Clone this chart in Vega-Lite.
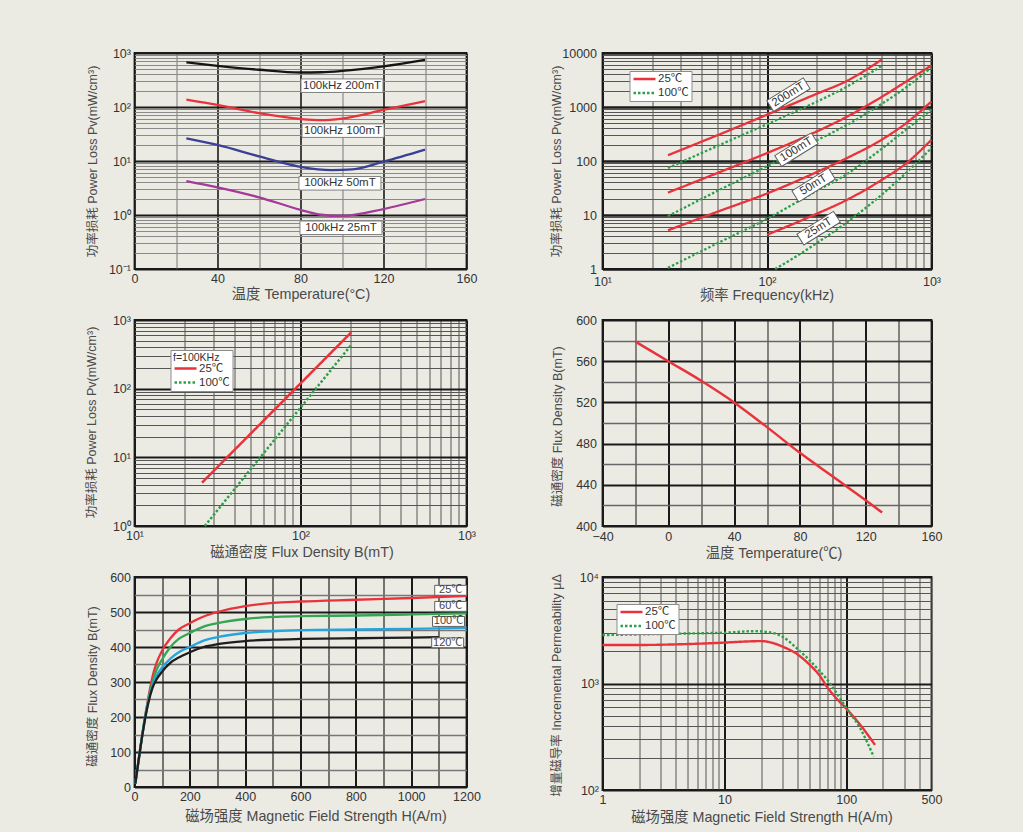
{
  "$schema": "https://vega.github.io/schema/vega-lite/v6.json",
  "background": "#ecebe3",
  "padding": {"left": 83.5, "top": 46, "right": 85, "bottom": 12},
  "config": {
    "font": "Liberation Sans, Noto Sans CJK SC, sans-serif",
    "view": {"stroke": "#1a1a1a", "strokeWidth": 1.8},
    "axis": {"domain": false, "ticks": false, "labelFont": "Liberation Sans, Noto Sans CJK SC, sans-serif", "titleFont": "Liberation Sans, Noto Sans CJK SC, sans-serif", "labelColor": "#333", "titleColor": "#4a4a4a", "labelFontSize": 12.5, "titleFontSize": 12.5, "titleFontWeight": "normal", "gridOpacity": 1, "labelPadding": 4, "titleAlign": "center", "titleBaseline": "middle", "labelFlush": false, "labelOverlap": false},
    "axisX": {"labelPadding": 3, "titleAngle": 0, "titleFontSize": 14.3},
    "axisY": {"titleAngle": 270},
    "legend": {"orient": "none", "fillColor": "white", "strokeColor": "#8c8c8c", "padding": 2.5, "symbolType": "stroke", "symbolSize": 484, "symbolStrokeWidth": 2.5, "labelFontSize": 11.5, "labelColor": "#333", "labelFont": "Liberation Sans, Noto Sans CJK SC, sans-serif", "labelOffset": 1, "rowPadding": 2, "clipHeight": 11, "titleFontSize": 10.5, "titleFontWeight": "normal", "titleColor": "#333", "titlePadding": 0, "titleFont": "Liberation Sans, Noto Sans CJK SC, sans-serif"}
  },
  "datasets": {
    "p1": [
      {"x": 25, "y": 670, "s": "200mT"}, {"x": 40, "y": 580, "s": "200mT"}, {"x": 60, "y": 490, "s": "200mT"}, {"x": 80, "y": 435, "s": "200mT"}, {"x": 90, "y": 440, "s": "200mT"}, {"x": 100, "y": 465, "s": "200mT"}, {"x": 120, "y": 565, "s": "200mT"}, {"x": 140, "y": 745, "s": "200mT"},
      {"x": 25, "y": 137, "s": "100mT"}, {"x": 40, "y": 109, "s": "100mT"}, {"x": 60, "y": 77, "s": "100mT"}, {"x": 80, "y": 60, "s": "100mT"}, {"x": 90, "y": 57, "s": "100mT"}, {"x": 100, "y": 61, "s": "100mT"}, {"x": 120, "y": 88, "s": "100mT"}, {"x": 140, "y": 128, "s": "100mT"},
      {"x": 25, "y": 26.3, "s": "50mT"}, {"x": 40, "y": 19.8, "s": "50mT"}, {"x": 60, "y": 12.2, "s": "50mT"}, {"x": 80, "y": 7.8, "s": "50mT"}, {"x": 95, "y": 6.8, "s": "50mT"}, {"x": 105, "y": 7.0, "s": "50mT"}, {"x": 120, "y": 9.7, "s": "50mT"}, {"x": 140, "y": 16.2, "s": "50mT"},
      {"x": 25, "y": 4.26, "s": "25mT"}, {"x": 40, "y": 3.26, "s": "25mT"}, {"x": 60, "y": 2.13, "s": "25mT"}, {"x": 80, "y": 1.25, "s": "25mT"}, {"x": 90, "y": 1.01, "s": "25mT"}, {"x": 100, "y": 0.96, "s": "25mT"}, {"x": 120, "y": 1.29, "s": "25mT"}, {"x": 140, "y": 1.98, "s": "25mT"}
    ],
    "p1l": [
      {"x": 100, "y": 248, "t": "100kHz 200mT"},
      {"x": 100.5, "y": 36.5, "t": "100kHz 100mT"},
      {"x": 99, "y": 3.86, "t": "100kHz 50mT"},
      {"x": 99.5, "y": 0.58, "t": "100kHz 25mT"}
    ],
    "p2": [
      {"x": 25, "y": 128, "s": "200mT", "T": "25℃"}, {"x": 50, "y": 300, "s": "200mT", "T": "25℃"}, {"x": 100, "y": 720, "s": "200mT", "T": "25℃"}, {"x": 200, "y": 1750, "s": "200mT", "T": "25℃"}, {"x": 300, "y": 2950, "s": "200mT", "T": "25℃"}, {"x": 500, "y": 7600, "s": "200mT", "T": "25℃"},
      {"x": 25, "y": 74, "s": "200mT", "T": "100℃"}, {"x": 50, "y": 190, "s": "200mT", "T": "100℃"}, {"x": 100, "y": 480, "s": "200mT", "T": "100℃"}, {"x": 200, "y": 1250, "s": "200mT", "T": "100℃"}, {"x": 300, "y": 2300, "s": "200mT", "T": "100℃"}, {"x": 500, "y": 5800, "s": "200mT", "T": "100℃"},
      {"x": 25, "y": 26, "s": "100mT", "T": "25℃"}, {"x": 50, "y": 60, "s": "100mT", "T": "25℃"}, {"x": 100, "y": 140, "s": "100mT", "T": "25℃"}, {"x": 200, "y": 350, "s": "100mT", "T": "25℃"}, {"x": 300, "y": 640, "s": "100mT", "T": "25℃"}, {"x": 500, "y": 1550, "s": "100mT", "T": "25℃"}, {"x": 700, "y": 2950, "s": "100mT", "T": "25℃"}, {"x": 1000, "y": 5900, "s": "100mT", "T": "25℃"},
      {"x": 25, "y": 9.5, "s": "100mT", "T": "100℃"}, {"x": 50, "y": 28, "s": "100mT", "T": "100℃"}, {"x": 100, "y": 80, "s": "100mT", "T": "100℃"}, {"x": 200, "y": 240, "s": "100mT", "T": "100℃"}, {"x": 300, "y": 450, "s": "100mT", "T": "100℃"}, {"x": 500, "y": 1150, "s": "100mT", "T": "100℃"}, {"x": 700, "y": 2300, "s": "100mT", "T": "100℃"}, {"x": 1000, "y": 5400, "s": "100mT", "T": "100℃"},
      {"x": 25, "y": 5.2, "s": "50mT", "T": "25℃"}, {"x": 50, "y": 11.5, "s": "50mT", "T": "25℃"}, {"x": 100, "y": 25, "s": "50mT", "T": "25℃"}, {"x": 200, "y": 62, "s": "50mT", "T": "25℃"}, {"x": 300, "y": 110, "s": "50mT", "T": "25℃"}, {"x": 500, "y": 250, "s": "50mT", "T": "25℃"}, {"x": 700, "y": 500, "s": "50mT", "T": "25℃"}, {"x": 1000, "y": 1270, "s": "50mT", "T": "25℃"},
      {"x": 25, "y": 1.05, "s": "50mT", "T": "100℃"}, {"x": 50, "y": 3.0, "s": "50mT", "T": "100℃"}, {"x": 100, "y": 8.5, "s": "50mT", "T": "100℃"}, {"x": 200, "y": 28, "s": "50mT", "T": "100℃"}, {"x": 300, "y": 55, "s": "50mT", "T": "100℃"}, {"x": 500, "y": 170, "s": "50mT", "T": "100℃"}, {"x": 700, "y": 380, "s": "50mT", "T": "100℃"}, {"x": 1000, "y": 890, "s": "50mT", "T": "100℃"},
      {"x": 100, "y": 4.3, "s": "25mT", "T": "25℃"}, {"x": 200, "y": 10.5, "s": "25mT", "T": "25℃"}, {"x": 300, "y": 18.5, "s": "25mT", "T": "25℃"}, {"x": 500, "y": 45, "s": "25mT", "T": "25℃"}, {"x": 700, "y": 90, "s": "25mT", "T": "25℃"}, {"x": 1000, "y": 248, "s": "25mT", "T": "25℃"},
      {"x": 112, "y": 1.0, "s": "25mT", "T": "100℃"}, {"x": 150, "y": 1.7, "s": "25mT", "T": "100℃"}, {"x": 200, "y": 3.0, "s": "25mT", "T": "100℃"}, {"x": 300, "y": 7.0, "s": "25mT", "T": "100℃"}, {"x": 500, "y": 24, "s": "25mT", "T": "100℃"}, {"x": 700, "y": 60, "s": "25mT", "T": "100℃"}, {"x": 1000, "y": 174, "s": "25mT", "T": "100℃"}
    ],
    "p2l": [
      {"x": 135, "y": 1690, "t": "200mT"},
      {"x": 151, "y": 162, "t": "100mT"},
      {"x": 192, "y": 36, "t": "50mT"},
      {"x": 206, "y": 5.7, "t": "25mT"}
    ],
    "p3": [
      {"x": 25.5, "y": 4.27, "T": "25℃"}, {"x": 202, "y": 660, "T": "25℃"},
      {"x": 26.5, "y": 1.0, "T": "100℃"}, {"x": 202, "y": 432, "T": "100℃"}
    ],
    "p4": [
      {"x": -20, "y": 579}, {"x": 0, "y": 560}, {"x": 20, "y": 541}, {"x": 40, "y": 520}, {"x": 60, "y": 496}, {"x": 80, "y": 471}, {"x": 100, "y": 448}, {"x": 120, "y": 425}, {"x": 130, "y": 413}
    ],
    "p5": [
      {"x": 3, "y": 10, "s": "25℃"}, {"x": 20, "y": 105, "s": "25℃"}, {"x": 35, "y": 185, "s": "25℃"}, {"x": 50, "y": 255, "s": "25℃"}, {"x": 65, "y": 315, "s": "25℃"}, {"x": 80, "y": 355, "s": "25℃"}, {"x": 100, "y": 390, "s": "25℃"}, {"x": 130, "y": 425, "s": "25℃"}, {"x": 160, "y": 450, "s": "25℃"}, {"x": 200, "y": 468, "s": "25℃"}, {"x": 250, "y": 487, "s": "25℃"}, {"x": 300, "y": 500, "s": "25℃"}, {"x": 400, "y": 517, "s": "25℃"}, {"x": 500, "y": 526, "s": "25℃"}, {"x": 600, "y": 530, "s": "25℃"}, {"x": 800, "y": 535, "s": "25℃"}, {"x": 1000, "y": 540, "s": "25℃"}, {"x": 1200, "y": 546, "s": "25℃"},
      {"x": 3, "y": 10, "s": "60℃"}, {"x": 20, "y": 105, "s": "60℃"}, {"x": 35, "y": 185, "s": "60℃"}, {"x": 50, "y": 250, "s": "60℃"}, {"x": 65, "y": 300, "s": "60℃"}, {"x": 80, "y": 335, "s": "60℃"}, {"x": 100, "y": 365, "s": "60℃"}, {"x": 130, "y": 400, "s": "60℃"}, {"x": 160, "y": 423, "s": "60℃"}, {"x": 200, "y": 440, "s": "60℃"}, {"x": 250, "y": 458, "s": "60℃"}, {"x": 300, "y": 468, "s": "60℃"}, {"x": 400, "y": 480, "s": "60℃"}, {"x": 500, "y": 486, "s": "60℃"}, {"x": 600, "y": 488, "s": "60℃"}, {"x": 800, "y": 490, "s": "60℃"}, {"x": 1000, "y": 493, "s": "60℃"}, {"x": 1200, "y": 496, "s": "60℃"},
      {"x": 3, "y": 10, "s": "100℃"}, {"x": 20, "y": 105, "s": "100℃"}, {"x": 35, "y": 183, "s": "100℃"}, {"x": 50, "y": 245, "s": "100℃"}, {"x": 65, "y": 290, "s": "100℃"}, {"x": 80, "y": 318, "s": "100℃"}, {"x": 100, "y": 342, "s": "100℃"}, {"x": 130, "y": 367, "s": "100℃"}, {"x": 160, "y": 385, "s": "100℃"}, {"x": 200, "y": 400, "s": "100℃"}, {"x": 250, "y": 418, "s": "100℃"}, {"x": 300, "y": 428, "s": "100℃"}, {"x": 400, "y": 440, "s": "100℃"}, {"x": 500, "y": 445, "s": "100℃"}, {"x": 600, "y": 448, "s": "100℃"}, {"x": 800, "y": 450, "s": "100℃"}, {"x": 1000, "y": 452, "s": "100℃"}, {"x": 1200, "y": 455, "s": "100℃"},
      {"x": 3, "y": 10, "s": "120℃"}, {"x": 20, "y": 105, "s": "120℃"}, {"x": 35, "y": 180, "s": "120℃"}, {"x": 50, "y": 240, "s": "120℃"}, {"x": 65, "y": 283, "s": "120℃"}, {"x": 80, "y": 308, "s": "120℃"}, {"x": 100, "y": 330, "s": "120℃"}, {"x": 130, "y": 355, "s": "120℃"}, {"x": 160, "y": 370, "s": "120℃"}, {"x": 200, "y": 385, "s": "120℃"}, {"x": 250, "y": 400, "s": "120℃"}, {"x": 300, "y": 408, "s": "120℃"}, {"x": 400, "y": 417, "s": "120℃"}, {"x": 500, "y": 421, "s": "120℃"}, {"x": 600, "y": 423, "s": "120℃"}, {"x": 800, "y": 425, "s": "120℃"}, {"x": 1000, "y": 427, "s": "120℃"}, {"x": 1100, "y": 428, "s": "120℃"}
    ],
    "p5l": [
      {"x": 1143, "y": 562, "t": "25℃"},
      {"x": 1143, "y": 516, "t": "60℃"},
      {"x": 1135, "y": 473, "t": "100℃"},
      {"x": 1132, "y": 412, "t": "120℃"}
    ],
    "p6": [
      {"x": 1, "y": 2300, "T": "25℃"}, {"x": 2, "y": 2300, "T": "25℃"}, {"x": 4, "y": 2330, "T": "25℃"}, {"x": 10, "y": 2420, "T": "25℃"}, {"x": 15, "y": 2480, "T": "25℃"}, {"x": 20, "y": 2500, "T": "25℃"}, {"x": 25, "y": 2400, "T": "25℃"}, {"x": 30, "y": 2220, "T": "25℃"}, {"x": 40, "y": 1870, "T": "25℃"}, {"x": 50, "y": 1500, "T": "25℃"}, {"x": 60, "y": 1200, "T": "25℃"}, {"x": 70, "y": 920, "T": "25℃"}, {"x": 80, "y": 760, "T": "25℃"}, {"x": 100, "y": 580, "T": "25℃"}, {"x": 130, "y": 410, "T": "25℃"}, {"x": 172, "y": 265, "T": "25℃"},
      {"x": 1, "y": 2850, "T": "100℃"}, {"x": 5, "y": 2950, "T": "100℃"}, {"x": 10, "y": 3000, "T": "100℃"}, {"x": 18, "y": 3100, "T": "100℃"}, {"x": 25, "y": 2980, "T": "100℃"}, {"x": 30, "y": 2750, "T": "100℃"}, {"x": 40, "y": 2100, "T": "100℃"}, {"x": 50, "y": 1650, "T": "100℃"}, {"x": 60, "y": 1320, "T": "100℃"}, {"x": 70, "y": 1080, "T": "100℃"}, {"x": 80, "y": 870, "T": "100℃"}, {"x": 100, "y": 590, "T": "100℃"}, {"x": 130, "y": 380, "T": "100℃"}, {"x": 168, "y": 205, "T": "100℃"}
    ]
  },
  "resolve": {"scale": {"color": "independent", "strokeDash": "independent"}, "legend": {"color": "independent", "strokeDash": "independent"}},
  "columns": 2,
  "bounds": "flush",
  "spacing": {"row": 51, "column": 136},
  "concat": [
    {
      "width": 332, "height": 216,
      "encoding": {
        "x": {"field": "x", "type": "quantitative", "scale": {"domain": [0, 160], "nice": false, "zero": false},
          "axis": {"title": "温度 Temperature(°C)", "values": [0, 20, 40, 60, 80, 100, 120, 140, 160],
            "labelExpr": "datum.value % 40 === 0 ? format(datum.value, 'd') : ''",
            "gridColor": {"condition": {"test": "datum.value % 40 === 0", "value": "#1a1a1a"}, "value": "#8a8a8a"},
            "gridWidth": {"condition": {"test": "datum.value % 40 === 0", "value": 1.6}, "value": 1.2},
            "titleX": 166, "titleY": 25}},
        "y": {"field": "y", "type": "quantitative", "scale": {"type": "log", "domain": [0.1, 1000], "nice": false},
          "axis": {"title": "功率损耗  Power Loss Pv(mW/cm³)", "values": [0.1, 0.2, 0.3, 0.4, 0.5, 0.6, 0.7, 0.8, 0.9, 1, 2, 3, 4, 5, 6, 7, 8, 9, 10, 20, 30, 40, 50, 60, 70, 80, 90, 100, 200, 300, 400, 500, 600, 700, 800, 900, 1000],
            "labelExpr": "abs(log(datum.value)/LN10 - round(log(datum.value)/LN10)) < 0.001 ? '10' + ['⁻¹','⁰','¹','²','³','⁴'][round(log(datum.value)/LN10)+1] : ''",
            "gridColor": {"condition": {"test": "abs(log(datum.value)/LN10 - round(log(datum.value)/LN10)) < 0.001", "value": "#1a1a1a"}, "value": "#8a8a8a"},
            "gridWidth": {"condition": {"test": "abs(log(datum.value)/LN10 - round(log(datum.value)/LN10)) < 0.001", "value": 1.8}, "value": 1},
            "titleX": -42, "titleY": 108}}
      },
      "layer": [
        {"data": {"name": "p1"}, "mark": {"type": "line", "interpolate": "monotone", "strokeWidth": 2.3},
          "encoding": {"color": {"field": "s", "type": "nominal", "scale": {"domain": ["200mT", "100mT", "50mT", "25mT"], "range": ["#151515", "#e8333c", "#3b3f96", "#a43a98"]}, "legend": null}}},
        {"data": {"name": "p1l"}, "mark": {"type": "point", "shape": "M-1,-0.165L1,-0.165L1,0.165L-1,0.165Z", "size": 6724, "filled": true, "fill": "white", "fillOpacity": 1, "stroke": "#808080", "strokeWidth": 1, "opacity": 1}},
        {"data": {"name": "p1l"}, "mark": {"type": "text", "fontSize": 11.5, "color": "#333", "align": "center", "baseline": "middle"},
          "encoding": {"text": {"field": "t", "type": "nominal"}}}
      ]
    },
    {
      "width": 329, "height": 216,
      "encoding": {
        "x": {"field": "x", "type": "quantitative", "scale": {"type": "log", "domain": [10, 1000], "nice": false},
          "axis": {"title": "频率 Frequency(kHz)", "values": [10, 20, 30, 40, 50, 60, 70, 80, 90, 100, 200, 300, 400, 500, 600, 700, 800, 900, 1000],
            "labelPadding": 6,
            "labelExpr": "abs(log(datum.value)/LN10 - round(log(datum.value)/LN10)) < 0.001 ? '10' + ['⁰','¹','²','³','⁴'][round(log(datum.value)/LN10)] : ''",
            "gridColor": {"condition": {"test": "abs(log(datum.value)/LN10 - round(log(datum.value)/LN10)) < 0.001", "value": "#1a1a1a"}, "value": "#555555"},
            "gridWidth": {"condition": {"test": "abs(log(datum.value)/LN10 - round(log(datum.value)/LN10)) < 0.001", "value": 2}, "value": 1},
            "titleX": 164, "titleY": 26}},
        "y": {"field": "y", "type": "quantitative", "scale": {"type": "log", "domain": [1, 10000], "nice": false},
          "axis": {"title": "功率损耗 Power Loss Pv(mW/cm³)", "values": [1, 2, 3, 4, 5, 6, 7, 8, 9, 10, 20, 30, 40, 50, 60, 70, 80, 90, 100, 200, 300, 400, 500, 600, 700, 800, 900, 1000, 2000, 3000, 4000, 5000, 6000, 7000, 8000, 9000, 10000],
            "labelPadding": 6,
            "labelExpr": "abs(log(datum.value)/LN10 - round(log(datum.value)/LN10)) < 0.001 ? format(datum.value, 'd') : ''",
            "gridColor": {"condition": {"test": "abs(log(datum.value)/LN10 - round(log(datum.value)/LN10)) < 0.001", "value": "#1a1a1a"}, "value": "#555555"},
            "gridWidth": {"condition": {"test": "abs(log(datum.value)/LN10 - round(log(datum.value)/LN10)) < 0.001", "value": 2.4}, "value": 1},
            "titleX": -46.5, "titleY": 108}}
      },
      "layer": [
        {"data": {"name": "p2"}, "mark": {"type": "line", "interpolate": "monotone", "strokeWidth": 2.3},
          "encoding": {
            "detail": {"field": "s", "type": "nominal"},
            "color": {"field": "T", "type": "nominal", "scale": {"domain": ["25℃", "100℃"], "range": ["#e8333c", "#2f9e4a"]}, "legend": {"title": null, "legendX": 27, "legendY": 18}},
            "strokeDash": {"field": "T", "type": "nominal", "scale": {"domain": ["25℃", "100℃"], "range": [[1, 0], [2.5, 2]]}, "legend": {"title": null, "legendX": 27, "legendY": 18}}
          }},
        {"data": {"name": "p2l"}, "mark": {"type": "point", "shape": "M-1,-0.3L1,-0.3L1,0.3L-1,0.3Z", "size": 1849, "angle": -32, "filled": true, "fill": "white", "fillOpacity": 1, "stroke": "#606060", "strokeWidth": 1, "opacity": 1}},
        {"data": {"name": "p2l"}, "mark": {"type": "text", "fontSize": 11.5, "color": "#333", "align": "center", "baseline": "middle", "angle": -32},
          "encoding": {"text": {"field": "t", "type": "nominal"}}}
      ]
    },
    {
      "width": 332, "height": 206,
      "encoding": {
        "x": {"field": "x", "type": "quantitative", "scale": {"type": "log", "domain": [10, 1000], "nice": false},
          "axis": {"title": "磁通密度  Flux Density B(mT)", "values": [10, 20, 30, 40, 50, 60, 70, 80, 90, 100, 200, 300, 400, 500, 600, 700, 800, 900, 1000],
            "labelExpr": "abs(log(datum.value)/LN10 - round(log(datum.value)/LN10)) < 0.001 ? '10' + ['⁰','¹','²','³','⁴'][round(log(datum.value)/LN10)] : ''",
            "gridColor": {"condition": {"test": "abs(log(datum.value)/LN10 - round(log(datum.value)/LN10)) < 0.001", "value": "#1a1a1a"}, "value": "#555555"},
            "gridWidth": {"condition": {"test": "abs(log(datum.value)/LN10 - round(log(datum.value)/LN10)) < 0.001", "value": 2}, "value": 1},
            "titleX": 167, "titleY": 26}},
        "y": {"field": "y", "type": "quantitative", "scale": {"type": "log", "domain": [1, 1000], "nice": false},
          "axis": {"title": "功率损耗 Power Loss Pv(mW/cm³)", "values": [1, 2, 3, 4, 5, 6, 7, 8, 9, 10, 20, 30, 40, 50, 60, 70, 80, 90, 100, 200, 300, 400, 500, 600, 700, 800, 900, 1000],
            "labelExpr": "abs(log(datum.value)/LN10 - round(log(datum.value)/LN10)) < 0.001 ? '10' + ['⁰','¹','²','³','⁴'][round(log(datum.value)/LN10)] : ''",
            "gridColor": {"condition": {"test": "abs(log(datum.value)/LN10 - round(log(datum.value)/LN10)) < 0.001", "value": "#1a1a1a"}, "value": "#555555"},
            "gridWidth": {"condition": {"test": "abs(log(datum.value)/LN10 - round(log(datum.value)/LN10)) < 0.001", "value": 2.2}, "value": 1},
            "titleX": -43.5, "titleY": 102}}
      },
      "layer": [
        {"data": {"name": "p3"}, "mark": {"type": "line", "strokeWidth": 2.5},
          "encoding": {
            "color": {"field": "T", "type": "nominal", "scale": {"domain": ["25℃", "100℃"], "range": ["#e8333c", "#2f9e4a"]}, "legend": {"title": "f=100KHz", "legendX": 36, "legendY": 30}},
            "strokeDash": {"field": "T", "type": "nominal", "scale": {"domain": ["25℃", "100℃"], "range": [[1, 0], [2.5, 2]]}, "legend": {"title": "f=100KHz", "legendX": 36, "legendY": 30}}
          }}
      ]
    },
    {
      "width": 329, "height": 206,
      "encoding": {
        "x": {"field": "x", "type": "quantitative", "scale": {"domain": [-40, 160], "nice": false, "zero": false},
          "axis": {"title": "温度 Temperature(℃)", "values": [-40, -20, 0, 20, 40, 60, 80, 100, 120, 140, 160],
            "labelPadding": 4.5,
            "labelExpr": "datum.value % 40 === 0 ? datum.label : ''",
            "gridColor": {"condition": {"test": "datum.value % 40 === 0", "value": "#1a1a1a"}, "value": "#555555"},
            "gridWidth": {"condition": {"test": "datum.value % 40 === 0", "value": 2}, "value": 1.4},
            "titleX": 171, "titleY": 27}},
        "y": {"field": "y", "type": "quantitative", "scale": {"domain": [400, 600], "nice": false, "zero": false},
          "axis": {"title": "磁通密度  Flux Density B(mT)", "values": [400, 420, 440, 460, 480, 500, 520, 540, 560, 580, 600],
            "labelPadding": 6,
            "labelExpr": "datum.value % 40 === 0 ? datum.label : ''",
            "gridColor": {"condition": {"test": "datum.value % 40 === 0", "value": "#1a1a1a"}, "value": "#666666"},
            "gridWidth": {"condition": {"test": "datum.value % 40 === 0", "value": 2}, "value": 1.4},
            "titleX": -45, "titleY": 106}}
      },
      "layer": [
        {"data": {"name": "p4"}, "mark": {"type": "line", "interpolate": "monotone", "strokeWidth": 2.5, "color": "#e8333c"}}
      ]
    },
    {
      "width": 332, "height": 210,
      "encoding": {
        "x": {"field": "x", "type": "quantitative", "scale": {"domain": [0, 1200], "nice": false, "zero": false},
          "axis": {"title": "磁场强度  Magnetic Field Strength H(A/m)", "values": [0, 100, 200, 300, 400, 500, 600, 700, 800, 900, 1000, 1100, 1200],
            "labelExpr": "datum.value % 200 === 0 ? format(datum.value, 'd') : ''",
            "gridColor": {"condition": {"test": "datum.value % 200 === 0", "value": "#1a1a1a"}, "value": "#333333"},
            "gridWidth": {"condition": {"test": "datum.value % 200 === 0", "value": 2}, "value": 1.3},
            "titleX": 181, "titleY": 29}},
        "y": {"field": "y", "type": "quantitative", "scale": {"domain": [0, 600], "nice": false, "zero": false},
          "axis": {"title": "磁通密度  Flux Density B(mT)", "values": [0, 50, 100, 150, 200, 250, 300, 350, 400, 450, 500, 550, 600],
            "labelExpr": "datum.value % 100 === 0 ? format(datum.value, 'd') : ''",
            "gridColor": {"condition": {"test": "datum.value % 100 === 0", "value": "#1a1a1a"}, "value": "#777777"},
            "gridWidth": {"condition": {"test": "datum.value % 100 === 0", "value": 2}, "value": 1.3},
            "titleX": -42, "titleY": 109}}
      },
      "layer": [
        {"data": {"name": "p5"}, "mark": {"type": "line", "interpolate": "monotone", "strokeWidth": 2.3},
          "encoding": {"color": {"field": "s", "type": "nominal", "scale": {"domain": ["25℃", "60℃", "100℃", "120℃"], "range": ["#e8333c", "#34a553", "#25a4de", "#1e1e1e"]}, "legend": null}}},
        {"data": {"name": "p5l"}, "mark": {"type": "point", "shape": "M-1,-0.31L1,-0.31L1,0.31L-1,0.31Z", "size": 1024, "filled": true, "fill": "white", "fillOpacity": 1, "stroke": "#606060", "strokeWidth": 1, "opacity": 1}},
        {"data": {"name": "p5l"}, "mark": {"type": "text", "fontSize": 11, "color": "#444", "align": "center", "baseline": "middle"},
          "encoding": {"text": {"field": "t", "type": "nominal"}}}
      ]
    },
    {
      "width": 329, "height": 213,
      "encoding": {
        "x": {"field": "x", "type": "quantitative", "scale": {"type": "log", "domain": [1, 500], "nice": false},
          "axis": {"title": "磁场强度  Magnetic Field Strength H(A/m)", "values": [1, 2, 3, 4, 5, 6, 7, 8, 9, 10, 20, 30, 40, 50, 60, 70, 80, 90, 100, 200, 300, 400, 500],
            "labelExpr": "(datum.value == 1 || datum.value == 10 || datum.value == 100 || datum.value == 500) ? format(datum.value, 'd') : ''",
            "gridColor": {"condition": {"test": "abs(log(datum.value)/LN10 - round(log(datum.value)/LN10)) < 0.001", "value": "#1a1a1a"}, "value": "#555555"},
            "gridWidth": {"condition": {"test": "abs(log(datum.value)/LN10 - round(log(datum.value)/LN10)) < 0.001", "value": 2}, "value": 1},
            "titleX": 159, "titleY": 27}},
        "y": {"field": "y", "type": "quantitative", "scale": {"type": "log", "domain": [100, 10000], "nice": false},
          "axis": {"title": "增量磁导率 Incremental Permeability μΔ", "values": [100, 200, 300, 400, 500, 600, 700, 800, 900, 1000, 2000, 3000, 4000, 5000, 6000, 7000, 8000, 9000, 10000],
            "labelExpr": "abs(log(datum.value)/LN10 - round(log(datum.value)/LN10)) < 0.001 ? '10' + ['⁰','¹','²','³','⁴'][round(log(datum.value)/LN10)] : ''",
            "gridColor": {"condition": {"test": "abs(log(datum.value)/LN10 - round(log(datum.value)/LN10)) < 0.001", "value": "#1a1a1a"}, "value": "#555555"},
            "gridWidth": {"condition": {"test": "abs(log(datum.value)/LN10 - round(log(datum.value)/LN10)) < 0.001", "value": 2.2}, "value": 1},
            "titleX": -46.5, "titleY": 108}}
      },
      "layer": [
        {"data": {"name": "p6"}, "mark": {"type": "line", "interpolate": "monotone", "strokeWidth": 2.4},
          "encoding": {
            "color": {"field": "T", "type": "nominal", "scale": {"domain": ["25℃", "100℃"], "range": ["#e8333c", "#2f9e4a"]}, "legend": {"title": null, "legendX": 14, "legendY": 27}},
            "strokeDash": {"field": "T", "type": "nominal", "scale": {"domain": ["25℃", "100℃"], "range": [[1, 0], [2.5, 2]]}, "legend": {"title": null, "legendX": 14, "legendY": 27}}
          }}
      ]
    }
  ]
}
